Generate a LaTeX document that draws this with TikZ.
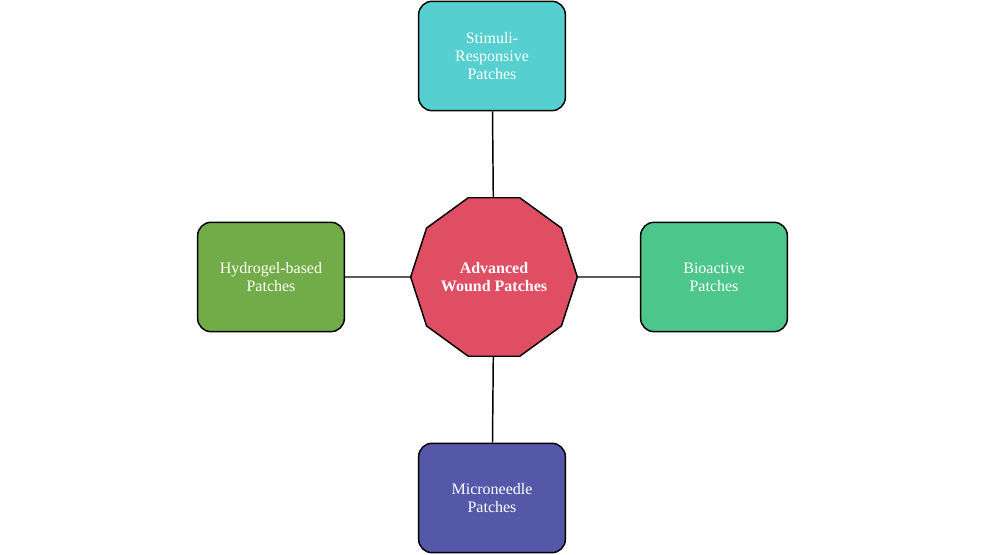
\documentclass[tikz,border=0pt]{standalone}
\usepackage{fontspec}
\setmainfont{Liberation Serif}
\usetikzlibrary{shapes.geometric}
\definecolor{cstim}{HTML}{55CFD0}
\definecolor{chydro}{HTML}{72AC48}
\definecolor{cbio}{HTML}{4DC68C}
\definecolor{cmicro}{HTML}{5558A8}
\definecolor{ccore}{HTML}{E04E63}
\tikzset{
    box/.style={draw=black,line width=1.1pt,rounded corners=10pt,minimum width=110pt,minimum height=82pt,
        text=white,align=center,font=\fontsize{12}{13.5}\selectfont},
    core/.style={draw=black,line width=1.1pt,regular polygon,regular polygon sides=10,minimum size=125pt,
        inner sep=0pt,fill=ccore,text=white,align=center,font=\bfseries\fontsize{12}{13.5}\selectfont},
    link/.style={draw,line width=1.1pt},
}
\begin{document}
\begin{tikzpicture}[x=0.75pt,y=-0.75pt]
\useasboundingbox (0,0) rectangle (986,555);
\node[core] (c) at (494,277) {Advanced\\Wound Patches};
\node[box,fill=cstim] (s) at (492,56) {Stimuli-\\Responsive\\Patches};
\node[box,fill=chydro] (h) at (271,277) {Hydrogel-based\\Patches};
\node[box,fill=cbio] (b) at (714,277) {Bioactive\\Patches};
\node[box,fill=cmicro] (m) at (492,498) {Microneedle\\Patches};
\path[link] (c) -- (s) (c) -- (h) (c) -- (b) (c) -- (m);
\end{tikzpicture}
\end{document}
